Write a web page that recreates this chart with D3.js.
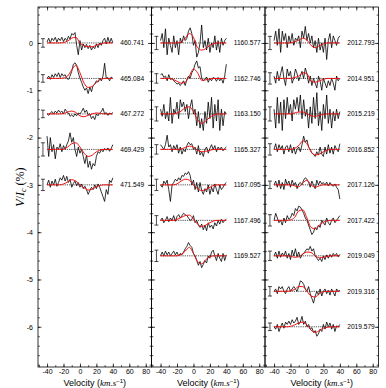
<!DOCTYPE html>
<html>
<head>
<meta charset="utf-8">
<script src="https://cdn.jsdelivr.net/npm/d3@7"></script>
<style>
  body { margin: 0; background: #fff; }
  svg { display: block; }
  .tick text { font-family: "Liberation Sans", Arial, sans-serif; font-size: 7px; }
  .lbl { font-family: "Liberation Sans", Arial, sans-serif; font-size: 6.6px; }
</style>
</head>
<body>
<svg id="chart" width="386" height="388"></svg>
<script>
// velocity grids (km/s)
const velObs = [-40,-38,-36,-34,-32,-30,-28,-26,-24,-22,-20,-18,-16,-14,-12,-10,-8,-6,-4,-2,0,
                2,4,6,8,10,12,14,16,18,20,22,24,26,28,30,32,34,36,38,40];
const velModel = [-40,-35,-30,-25,-20,-15,-10,-5,0,5,10,15,20,25,30,35,40];

const xTicks = [-40,-20,0,20,40,60,80];
const yTicks = [0,-1,-2,-3,-4,-5,-6];

// panel 1
const labelsA = ["460.741","465.084","467.272","469.429","471.549"];
const offsetsA = [0,-0.75,-1.5,-2.25,-3.0];
const errA = [0.09,0.08,0.08,0.14,0.12];
const obsA = [
  [0.02,0.1,0.0,0.1,0.05,0.12,0.02,0.1,0.05,0.12,0.03,0.1,0.05,0.14,0.08,0.2,0.17,0.22,-0.05,-0.25,0.05,-0.15,-0.02,-0.1,-0.03,-0.12,-0.05,-0.15,-0.08,-0.12,-0.02,-0.1,0.0,-0.05,0.05,0.1,-0.02,0.12,0.0,0.1,0.0],
  [0.0,0.05,-0.02,0.08,0.02,0.1,0.04,0.12,0.02,0.1,0.05,0.08,0.0,-0.02,0.05,0.15,0.3,0.33,0.28,0.12,0.0,-0.08,-0.18,-0.25,-0.2,-0.32,-0.18,-0.28,-0.15,-0.12,-0.05,-0.08,0.0,-0.05,0.05,0.32,0.0,0.02,-0.05,0.03,0.0],
  [0.0,-0.03,0.02,0.05,0.0,0.06,0.02,0.08,0.03,0.06,0.0,0.1,0.05,0.02,-0.05,-0.02,-0.06,0.0,-0.04,0.02,0.0,0.05,0.12,0.03,0.08,-0.02,0.0,-0.1,-0.05,-0.12,0.0,-0.04,0.02,0.05,0.12,0.0,0.03,-0.03,0.02,0.0,0.03],
  [0.28,-0.15,0.25,-0.05,0.1,-0.2,0.05,0.0,0.12,-0.05,0.08,0.0,0.1,0.18,0.35,0.15,0.25,0.0,-0.15,0.05,-0.08,0.0,-0.15,-0.3,-0.12,-0.38,-0.25,-0.42,-0.3,-0.35,-0.15,-0.05,-0.08,0.0,-0.05,0.02,-0.02,0.03,-0.04,0.02,0.1],
  [0.0,0.1,-0.05,0.08,0.0,0.12,-0.03,0.05,0.15,0.1,0.2,0.08,0.18,0.05,0.12,-0.05,0.03,0.08,-0.02,0.05,-0.05,0.02,-0.08,-0.03,-0.1,-0.2,-0.12,-0.05,-0.1,0.0,-0.08,0.02,-0.05,-0.15,-0.25,-0.35,-0.1,-0.2,0.1,0.05,0.15]
];
const modelA = [
  [0,0,0,0,0.01,0.04,0.1,0.12,0.0,-0.06,-0.08,-0.08,-0.05,-0.02,0,0,0],
  [0,0,0,0,0.01,0.05,0.18,0.28,0.12,-0.1,-0.19,-0.17,-0.08,-0.02,0,0,0],
  [0,0,0,0,0.01,0.04,0.06,0.03,-0.04,-0.06,-0.03,0.0,0.02,0.01,0,0,0],
  [0,0,0,0,0.01,0.05,0.12,0.14,0.05,-0.08,-0.15,-0.12,-0.05,-0.01,0,0,0],
  [0,0,0,0,0.02,0.06,0.11,0.08,0.0,-0.06,-0.11,-0.09,-0.04,-0.01,0,0,0]
];

// panel 2
const labelsB = ["1160.577","1162.746","1163.150","1165.327","1167.095","1167.496","1169.527"];
const offsetsB = [0,-0.75,-1.5,-2.25,-3.0,-3.75,-4.5];
const errB = [0.14,0.1,0.15,0.1,0.12,0.1,0.12];
const obsB = [
  [0.05,0.2,-0.1,0.3,-0.25,0.1,-0.05,-0.2,0.15,-0.1,0.05,-0.25,0.1,0.0,0.15,0.05,0.1,0.25,0.32,0.2,-0.05,0.05,-0.3,-0.2,0.0,0.38,-0.1,0.05,-0.15,0.1,-0.2,0.0,-0.1,0.15,-0.15,0.05,-0.2,0.1,-0.05,0.05,0.1],
  [0.08,0.1,0.02,0.05,-0.05,0.08,-0.02,0.0,-0.05,-0.08,-0.12,-0.1,-0.15,-0.1,-0.05,-0.15,-0.02,0.05,0.0,0.12,0.18,0.3,0.37,0.22,0.25,0.0,-0.05,-0.02,0.03,-0.08,0.0,-0.05,0.02,0.0,-0.06,0.02,-0.05,0.0,-0.1,0.05,0.3],
  [0.1,-0.05,0.2,-0.1,0.05,-0.15,0.35,-0.2,0.1,0.0,0.25,-0.1,0.3,0.15,0.25,0.05,0.2,-0.1,0.15,0.3,0.0,0.1,-0.25,0.05,-0.3,-0.1,-0.35,0.05,-0.2,0.25,-0.1,0.35,-0.3,0.2,-0.15,0.3,-0.35,0.1,-0.25,0.05,0.0],
  [0.1,0.05,0.0,0.1,0.3,0.05,0.1,-0.05,0.08,0.0,0.1,-0.08,0.05,-0.1,0.0,-0.05,0.08,0.15,0.1,0.12,0.0,0.05,-0.1,0.08,-0.12,-0.05,-0.15,0.0,0.05,-0.08,0.02,0.1,0.0,0.08,-0.05,0.05,0.0,0.05,-0.03,0.02,0.05],
  [0.0,-0.05,0.08,0.02,0.1,-0.1,-0.35,0.0,0.05,0.12,0.08,0.15,0.1,0.2,0.18,0.25,0.22,0.28,0.2,0.0,0.1,-0.1,0.05,-0.15,0.05,-0.12,-0.2,-0.08,-0.15,0.0,-0.2,-0.05,-0.15,0.02,-0.1,-0.2,0.0,-0.1,-0.05,0.02,0.05],
  [0.0,0.05,-0.05,0.0,0.08,-0.03,0.05,0.0,0.1,-0.02,0.08,0.12,0.05,0.1,0.15,0.12,0.1,0.05,0.0,0.02,0.1,-0.05,0.0,-0.1,-0.15,-0.08,-0.2,-0.1,-0.22,-0.05,-0.15,-0.1,-0.18,-0.05,-0.12,0.0,-0.08,0.02,-0.05,0.0,0.02],
  [0.0,0.08,0.0,0.1,0.02,0.08,0.0,0.05,0.1,0.02,0.08,0.0,0.05,0.02,0.08,0.15,0.2,0.28,0.22,0.18,0.05,0.0,-0.1,-0.2,-0.12,-0.25,-0.18,-0.1,-0.15,0.0,-0.05,0.08,0.12,0.0,-0.1,0.05,-0.05,-0.12,0.05,-0.1,0.02]
];
const modelB = [
  [0,0,0,0,0,0.02,0.1,0.2,0.12,-0.1,-0.15,-0.12,-0.05,-0.01,0,0,0],
  [0,0,0,-0.02,-0.06,-0.1,-0.08,0.05,0.2,0.12,-0.04,-0.03,-0.01,0,0,0,0],
  [0,0,0,0,0.02,0.06,0.13,0.15,0.05,-0.12,-0.2,-0.15,-0.07,-0.02,0,0,0],
  [0,0,0,0,0,0.01,0.04,0.07,0.05,-0.02,-0.05,-0.04,-0.02,0,0,0,0],
  [0,0,0,0,0.02,0.08,0.12,0.1,0.0,-0.08,-0.12,-0.1,-0.05,-0.01,0,0,0],
  [0,0,0,0,0.02,0.06,0.1,0.11,0.03,-0.08,-0.13,-0.1,-0.05,-0.01,0,0,0],
  [0,0,0,0,0,0.03,0.1,0.18,0.05,-0.12,-0.17,-0.08,-0.02,0,0,0,0]
];

// panel 3
const labelsC = ["2012.793","2014.951","2015.219","2016.852","2017.126","2017.422","2019.049","2019.316","2019.579"];
const offsetsC = [0,-0.75,-1.5,-2.25,-3.0,-3.75,-4.5,-5.25,-6.0];
const errC = [0.14,0.12,0.15,0.12,0.08,0.12,0.1,0.1,0.08];
const obsC = [
  [0.05,0.25,-0.05,0.3,-0.2,0.25,0.05,0.2,-0.1,0.15,0.0,0.2,-0.05,0.1,0.05,0.15,-0.1,0.25,0.1,0.35,0.05,0.2,0.0,0.15,-0.1,0.05,-0.2,0.1,-0.15,0.0,-0.2,0.1,-0.35,0.05,0.2,-0.1,0.15,0.05,-0.05,0.1,0.15],
  [0.05,-0.1,0.15,-0.05,0.1,0.25,0.0,-0.15,0.2,0.05,0.15,-0.1,0.0,0.2,0.1,-0.05,0.05,0.15,0.0,0.22,0.1,-0.1,0.05,-0.15,0.0,-0.1,-0.2,0.05,-0.05,-0.25,0.0,-0.1,-0.2,-0.05,-0.15,0.0,-0.1,-0.25,0.05,-0.05,0.0],
  [0.1,-0.3,0.35,-0.2,0.25,-0.35,0.3,-0.1,0.35,0.0,0.2,-0.15,0.3,0.1,0.35,0.05,0.4,-0.1,0.3,-0.05,0.1,-0.3,0.15,-0.2,0.35,-0.1,0.45,-0.25,0.05,-0.35,0.2,-0.1,0.4,-0.2,0.1,-0.3,0.05,-0.15,0.1,-0.1,0.05],
  [0.0,0.12,-0.05,0.1,0.0,0.08,-0.1,0.05,0.08,-0.05,0.1,-0.08,0.05,-0.1,0.0,0.05,-0.05,0.1,0.28,0.15,0.2,0.05,0.0,-0.08,-0.1,-0.15,-0.05,-0.12,0.05,-0.1,-0.15,0.05,-0.1,0.1,-0.08,0.05,-0.1,0.08,0.0,-0.05,0.12],
  [0.0,0.08,-0.05,0.1,-0.08,0.05,-0.1,0.12,0.0,0.08,-0.05,0.1,0.0,0.05,-0.08,0.02,0.05,0.0,0.1,0.15,0.12,0.05,-0.05,0.08,0.0,-0.08,0.1,0.0,0.08,0.02,0.05,0.0,0.06,-0.02,0.05,0.0,-0.03,0.02,-0.05,-0.1,-0.3],
  [0.0,0.15,0.05,-0.05,0.0,-0.1,0.05,-0.05,0.1,0.02,0.05,0.15,0.1,0.25,0.2,0.3,0.28,0.22,0.15,0.05,0.0,-0.1,-0.2,-0.3,-0.25,-0.15,-0.2,-0.1,-0.15,0.0,-0.05,-0.1,0.05,-0.05,-0.1,0.0,0.05,-0.05,0.0,0.05,0.1],
  [0.0,0.08,-0.05,0.1,-0.03,0.06,0.0,0.1,-0.05,0.05,-0.08,0.12,0.0,0.15,-0.02,0.08,-0.05,0.02,0.05,0.1,0.15,0.12,0.2,0.1,0.15,0.0,-0.05,-0.1,-0.05,-0.12,0.0,-0.08,0.02,-0.05,0.03,-0.03,0.05,0.0,0.05,-0.02,0.03],
  [0.0,0.05,-0.05,0.1,0.05,0.1,0.0,-0.05,0.05,0.1,0.0,0.05,0.1,0.05,0.0,0.1,0.22,0.2,0.15,0.05,0.0,0.1,-0.05,-0.15,-0.25,-0.1,0.0,-0.08,0.05,-0.1,0.0,0.05,-0.05,0.02,-0.08,0.05,-0.02,-0.1,0.05,0.0,0.02],
  [0.0,-0.05,0.05,-0.1,0.0,0.08,-0.03,0.1,0.05,0.12,0.05,0.15,0.08,0.12,0.2,0.05,0.1,0.22,0.05,0.12,0.0,0.05,-0.05,-0.02,-0.12,-0.08,-0.2,-0.15,-0.05,-0.1,0.05,-0.05,0.1,0.0,0.08,-0.05,0.05,-0.1,0.02,0.0,0.05]
];
const modelC = [
  [0,0,0,0,0,0.02,0.06,0.1,0.06,-0.05,-0.1,-0.06,-0.02,0,0,0,0],
  [0,0,0,0,0,0.02,0.05,0.12,0.1,-0.06,-0.08,-0.05,-0.02,0,0,0,0],
  [0,0,0,0,0,0.02,0.04,0.04,0.0,-0.04,-0.05,-0.03,-0.01,0,0,0,0],
  [0,0,0,0,0,0.02,0.08,0.18,0.12,-0.05,-0.12,-0.1,-0.05,-0.01,0,0,0],
  [0,0,0,0,0,-0.02,-0.04,0.04,0.1,0.0,-0.05,-0.02,0,0,0,0,0],
  [0,0,0,0,0.01,0.06,0.2,0.22,0.05,-0.15,-0.18,-0.1,-0.04,-0.01,0,0,0],
  [0,0,0,0,-0.01,-0.03,-0.02,0.04,0.08,0.07,0.0,-0.04,-0.03,-0.01,0,0,0],
  [0,0,0,0,0.01,0.04,0.1,0.1,0.0,-0.1,-0.12,-0.05,-0.01,0,0,0,0],
  [0,0,0,0,0.01,0.04,0.08,0.1,0.04,-0.07,-0.12,-0.08,-0.03,-0.01,0,0,0]
];

const panels = [
  { left: 38,    labels: labelsA, offsets: offsetsA, err: errA, obs: obsA, model: modelA },
  { left: 151.5, labels: labelsB, offsets: offsetsB, err: errB, obs: obsB, model: modelB },
  { left: 265,   labels: labelsC, offsets: offsetsC, err: errC, obs: obsC, model: modelC }
];

const svg = d3.select('#chart');
const panelW = 113.5;
const plotTop = 7, plotBottom = 367;

const yScale = d3.scaleLinear().domain([0.76, -6.85]).range([plotTop, plotBottom]);

panels.forEach((p, pi) => {
  const xScale = d3.scaleLinear().domain([-51, 87]).range([p.left, p.left + panelW]);
  const g = svg.append('g');

  // frame
  g.append('rect')
    .attr('x', p.left).attr('y', plotTop)
    .attr('width', panelW).attr('height', plotBottom - plotTop)
    .attr('fill', 'none').attr('stroke', '#000').attr('stroke-width', 0.8);

  // x axes, ticks pointing inward
  const xMinor = d3.range(-50, 81, 10);
  g.append('g').attr('transform', `translate(0,${plotBottom})`)
    .call(d3.axisBottom(xScale).tickValues(xTicks).tickSize(-3.5).tickPadding(2).tickFormat(d => String(d)))
    .call(a => a.select('.domain').remove());
  g.append('g').attr('transform', `translate(0,${plotBottom})`)
    .call(d3.axisBottom(xScale).tickValues(xMinor).tickSize(-1.8).tickFormat(''))
    .call(a => a.select('.domain').remove());
  g.append('g').attr('transform', `translate(0,${plotTop})`)
    .call(d3.axisTop(xScale).tickValues(xTicks).tickSize(-3.5).tickFormat(''))
    .call(a => a.select('.domain').remove());
  g.append('g').attr('transform', `translate(0,${plotTop})`)
    .call(d3.axisTop(xScale).tickValues(xMinor).tickSize(-1.8).tickFormat(''))
    .call(a => a.select('.domain').remove());

  // y axes
  const yMinor = d3.range(0.6, -6.81, -0.2);
  g.append('g').attr('transform', `translate(${p.left},0)`)
    .call(d3.axisLeft(yScale).tickValues(yTicks).tickSize(-3.5).tickPadding(5)
      .tickFormat(pi === 0 ? (d => String(d)) : ''))
    .call(a => a.select('.domain').remove());
  g.append('g').attr('transform', `translate(${p.left},0)`)
    .call(d3.axisLeft(yScale).tickValues(yMinor).tickSize(-1.8).tickFormat(''))
    .call(a => a.select('.domain').remove());
  g.append('g').attr('transform', `translate(${p.left + panelW},0)`)
    .call(d3.axisRight(yScale).tickValues(yTicks).tickSize(-3.5).tickFormat(''))
    .call(a => a.select('.domain').remove());
  g.append('g').attr('transform', `translate(${p.left + panelW},0)`)
    .call(d3.axisRight(yScale).tickValues(yMinor).tickSize(-1.8).tickFormat(''))
    .call(a => a.select('.domain').remove());

  g.selectAll('.tick line').attr('stroke-width', 0.7);

  const obsLine = d3.line().x((d, i) => xScale(velObs[i])).y(d => d);
  const modelLine = d3.line().x((d, i) => xScale(velModel[i])).y(d => d).curve(d3.curveMonotoneX);

  p.labels.forEach((lab, k) => {
    const off = p.offsets[k];

    // zero level
    g.append('line')
      .attr('x1', xScale(-40)).attr('x2', xScale(40))
      .attr('y1', yScale(off)).attr('y2', yScale(off))
      .attr('stroke', '#000').attr('stroke-width', 0.7)
      .attr('stroke-dasharray', '1.2,1');

    // observed profile
    g.append('path')
      .attr('d', obsLine(p.obs[k].map(v => yScale(off + v))))
      .attr('fill', 'none').attr('stroke', '#000').attr('stroke-width', 0.8);

    // model
    g.append('path')
      .attr('d', modelLine(p.model[k].map(v => yScale(off + v))))
      .attr('fill', 'none').attr('stroke', '#f01010').attr('stroke-width', 1);

    // error bar
    const ex = xScale(-45);
    const e = p.err[k];
    g.append('line').attr('x1', ex).attr('x2', ex)
      .attr('y1', yScale(off + e)).attr('y2', yScale(off - e))
      .attr('stroke', '#000').attr('stroke-width', 0.7);
    [e, -e].forEach(s => {
      g.append('line').attr('x1', ex - 2).attr('x2', ex + 2)
        .attr('y1', yScale(off + s)).attr('y2', yScale(off + s))
        .attr('stroke', '#000').attr('stroke-width', 0.7);
    });

    // date label
    g.append('text').attr('class', 'lbl')
      .attr('x', xScale(49)).attr('y', yScale(off))
      .attr('dy', '0.35em')
      .text(lab);
  });

  // x axis title
  const t = g.append('text')
    .attr('x', p.left + panelW / 2).attr('y', 385.5)
    .attr('text-anchor', 'middle')
    .attr('font-family', '"Liberation Sans", Arial, sans-serif')
    .attr('font-size', '9px');
  t.append('tspan').text('Velocity (');
  t.append('tspan').attr('font-family', '"Liberation Serif", serif').attr('font-style', 'italic').text('km.s');
  t.append('tspan').attr('font-size', '6px').attr('dy', '-3').text('−1');
  t.append('tspan').attr('dy', '3').text(')');
});

// y axis title
const yt = svg.append('text')
  .attr('transform', `translate(24,${(plotTop + plotBottom) / 2}) rotate(-90)`)
  .attr('text-anchor', 'middle')
  .attr('font-family', '"Liberation Serif", serif')
  .attr('font-size', '12px');
yt.append('tspan').attr('font-style', 'italic').text('V');
yt.append('tspan').text('/');
yt.append('tspan').attr('font-style', 'italic').text('I');
yt.append('tspan').attr('font-style', 'italic').attr('font-size', '8px').attr('dy', '2').text('c');
yt.append('tspan').attr('dy', '-2').text(' (%)');
</script>
</body>
</html>
